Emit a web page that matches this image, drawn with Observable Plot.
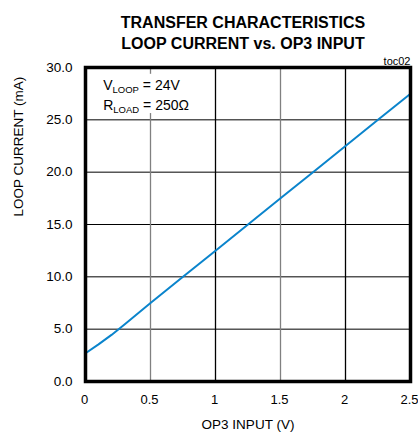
<!DOCTYPE html>
<html><head><meta charset="utf-8">
<script src="https://cdn.jsdelivr.net/npm/d3@7"></script>
<script src="https://cdn.jsdelivr.net/npm/@observablehq/plot@0.6"></script>
<style>
body{margin:0;background:#fff;}
#chart svg{display:block;}
</style>
</head><body><div id="chart"></div>
<script>
const title1 = "TRANSFER CHARACTERISTICS";
const title2 = "LOOP CURRENT vs. OP3 INPUT";
const xLabel = "OP3 INPUT (V)";
const yLabel = "LOOP CURRENT (mA)";
const tag = "toc02";
const xTicks = [0, 0.5, 1, 1.5, 2, 2.5];
const xTickLabels = ["0", "0.5", "1", "1.5", "2", "2.5"];
const yTicks = [0, 5, 10, 15, 20, 25, 30];
const gridX = [0.5, 1, 1.5, 2];
const gridXColor = ["#808080", "#000", "#808080", "#000"];
const gridY = [5, 10, 15, 20, 25];
const opInput = [0, 0.1, 0.2, 0.25, 0.3, 0.5, 0.75, 1, 1.25, 1.5, 1.75, 2, 2.25, 2.5];
const loopCurrent = [2.7, 3.55, 4.45, 4.95, 5.45, 7.5, 10.0, 12.5, 15.0, 17.5, 20.0, 22.5, 25.0, 27.5];

const FONT = "'Liberation Sans Narrow', 'Arial Narrow', 'Liberation Sans', Arial, sans-serif";
const line = opInput.map((x, i) => ({x, y: loopCurrent[i]}));

const chart = Plot.plot({
  width: 418, height: 441,
  marginLeft: 85, marginRight: 8, marginTop: 67, marginBottom: 60,
  style: {fontFamily: FONT, fontSize: "14px", color: "#000", background: "#fff", overflow: "visible"},
  x: {domain: [0, 2.5]},
  y: {domain: [0, 30]},
  marks: [
    Plot.ruleY(gridY, {stroke: "#000", strokeWidth: 1}),
    Plot.ruleX(gridX, {stroke: (d, i) => gridXColor[i], strokeWidth: 1.3}),
    Plot.rect([{x1: 0.01, x2: 0.9, y1: 25.6, y2: 29.35}], {x1: "x1", x2: "x2", y1: "y1", y2: "y2", fill: "#fff"}),
    Plot.line(line, {x: "x", y: "y", stroke: "#0a84cc", strokeWidth: 2}),
    Plot.frame({stroke: "#000", strokeWidth: 3.5}),
    Plot.axisX(xTicks, {tickSize: 0, tickPadding: 13, tickFormat: (d, i) => xTickLabels[i], label: null, fontSize: 13, dx: -1}),
    Plot.axisY(yTicks, {tickSize: 0, tickPadding: 13, tickFormat: d => d.toFixed(1), label: null, fontSize: 13.5}),
    Plot.text([xLabel], {frameAnchor: "bottom", dy: 47, fontSize: 13.5}),
    Plot.text([yLabel], {frameAnchor: "left", dx: -67, dy: -8, rotate: -90, fontSize: 13.5}),
    Plot.text([tag], {frameAnchor: "top-right", dy: -10, dx: 0, textAnchor: "end", fontSize: 11}),
    Plot.text([title1], {frameAnchor: "top", dx: -5, dy: -51, fontSize: 16, fontWeight: "bold"}),
    Plot.text([title2], {frameAnchor: "top", dx: -5, dy: -30, fontSize: 16, fontWeight: "bold"})
  ]
});
document.getElementById("chart").appendChild(chart);

// legend annotation with subscripts, positioned through the plot's scales
const sx = chart.scale("x"), sy = chart.scale("y");
const svg = d3.select(chart);
const ann = [
  {main: "V", sub: "LOOP", rest: " = 24V", y: 27.8},
  {main: "R", sub: "LOAD", rest: " = 250\u03A9", y: 25.85}
];
ann.forEach(a => {
  const t = svg.append("text")
    .attr("x", sx.apply(0.14)).attr("y", sy.apply(a.y))
    .attr("text-anchor", "start")
    .attr("font-family", FONT).attr("font-size", 14).attr("fill", "#000");
  t.append("tspan").text(a.main);
  t.append("tspan").attr("font-size", 9.5).attr("dy", 3).text(a.sub);
  t.append("tspan").attr("dy", -3).text(a.rest);
});
</script>
</body></html>
